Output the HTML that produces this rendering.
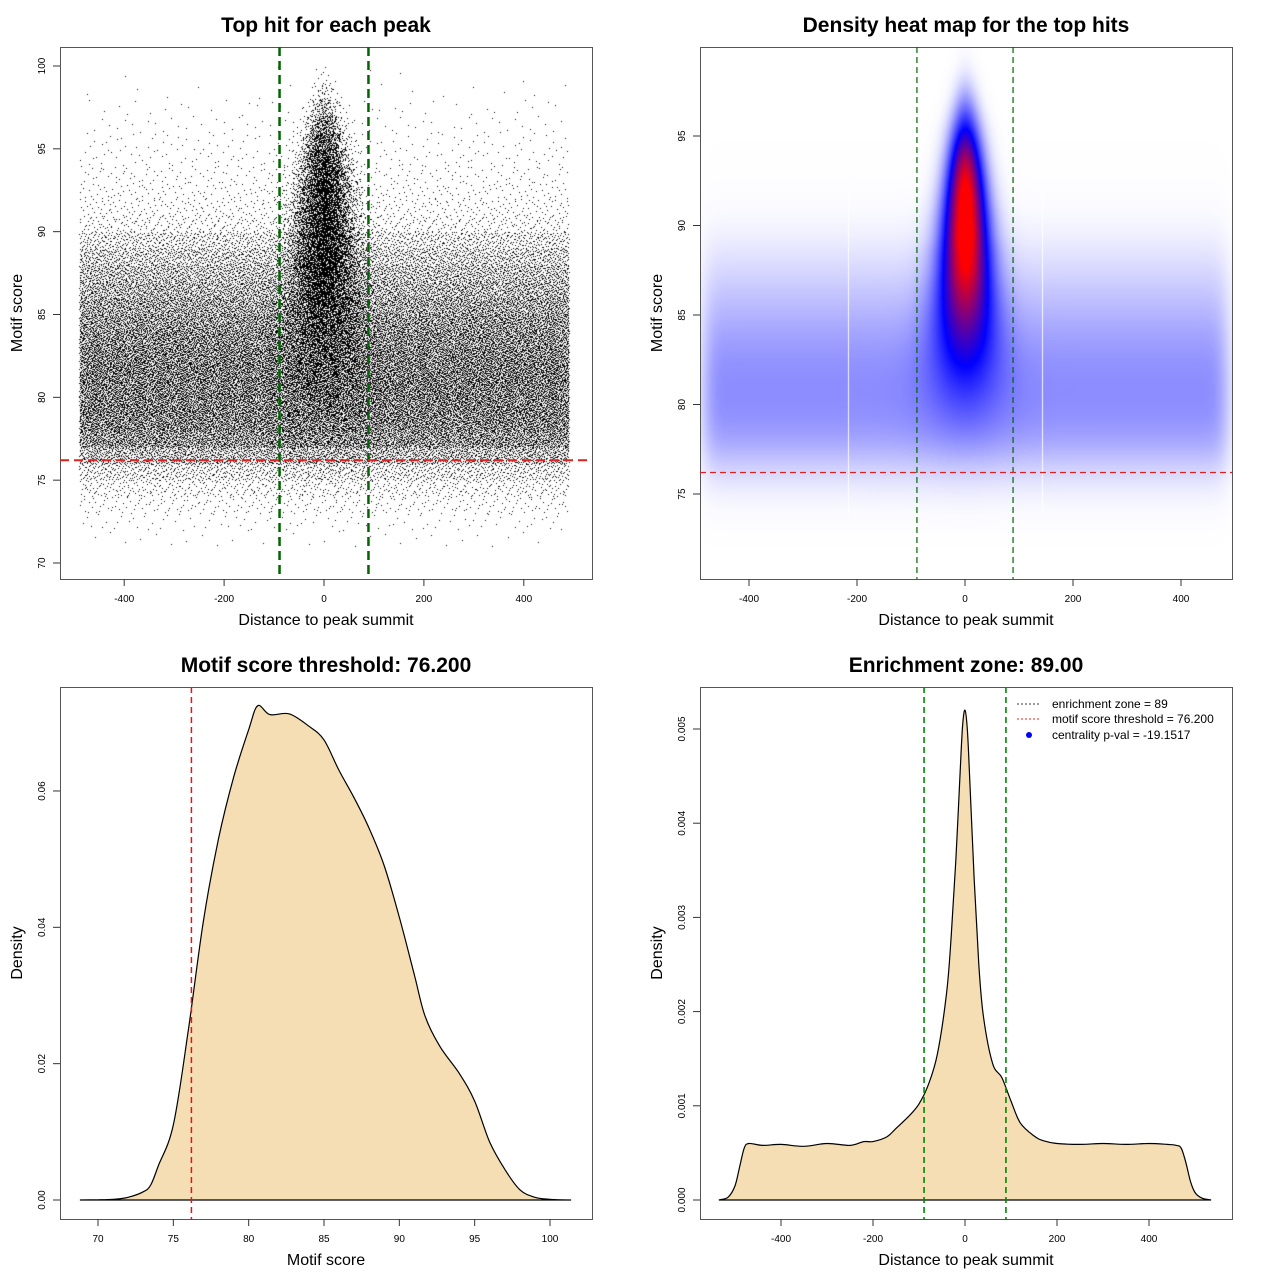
<!DOCTYPE html>
<html><head><meta charset="utf-8"><style>
body{margin:0;background:#fff;width:1280px;height:1280px;position:relative;overflow:hidden;font-family:"Liberation Sans",sans-serif}
canvas{position:absolute}
svg{position:absolute;left:0;top:0}
</style></head><body>
<canvas id="sc" width="532" height="532" style="left:60px;top:47px"></canvas>
<canvas id="hm" width="532" height="532" style="left:700px;top:47px"></canvas>
<svg id="s" width="1280" height="1280"></svg>
<script>
// ---- data ----
const scoreBins=[71,72,73,74,75,76,77,78,79,80,81,82,83,84,85,86,87,88,89,90,91,92,93,94,95,96,97,98,99];
const bgCounts=[30,90,260,560,1150,2600,4000,4400,4600,4700,4700,4500,4200,3800,3300,2800,2300,1800,1200,500,320,230,170,120,85,60,38,15,5];
const centerCounts=[0,0,5,10,25,45,70,110,170,240,330,440,560,680,800,900,980,1050,1100,1100,1050,950,820,650,460,280,120,35,8];
const centerSd=[65,65,65,62,60,58,56,54,52,50,48,46,44,42,40,38,36,35,33,32,30,28,26,24,22,19,16,14,12];
const motifX=[68.8,70,71,72,73,73.5,74,75,76,77,78,79,80,80.6,81.4,82.7,84,85,86,87,88,89,90,91,91.7,92.7,94,95,96,97,98,99,100,101.4];
const motifD=[0,0.00003,0.0001,0.0004,0.0012,0.0022,0.005,0.011,0.025,0.041,0.053,0.062,0.069,0.0725,0.0712,0.0713,0.0695,0.0675,0.063,0.059,0.0545,0.049,0.0415,0.033,0.027,0.0225,0.0185,0.0145,0.0085,0.0045,0.0015,0.0004,0.0001,0];
const distX=[-535,-515,-500,-490,-480,-470,-440,-400,-350,-300,-250,-220,-200,-170,-150,-120,-100,-80,-60,-40,-30,-20,-10,-5,0,5,10,20,30,40,60,80,100,120,150,170,200,250,300,350,400,440,460,470,480,490,500,515,535];
const distD=[0,0.03,0.15,0.35,0.55,0.6,0.58,0.59,0.57,0.6,0.58,0.62,0.62,0.67,0.76,0.9,1.02,1.22,1.55,2.2,2.8,3.6,4.6,5.05,5.2,5.0,4.5,3.4,2.5,1.95,1.45,1.3,1.05,0.82,0.68,0.63,0.6,0.59,0.6,0.59,0.6,0.59,0.58,0.55,0.4,0.2,0.08,0.02,0];
const threshold=76.2, zone=89;
const xTicks1=[-400,-200,0,200,400], yTicks1=[70,75,80,85,90,95,100];
const yTicks2=[75,80,85,90,95];
const xTicks3=[70,75,80,85,90,95,100], yTicks3=[0,0.02,0.04,0.06];
const yTicks4=[0,0.001,0.002,0.003,0.004,0.005];

// ---- scales ----
const x1=v=>324+v*0.4995, y1=v=>563-(v-70)*16.567;
const x2=v=>965+v*0.54, y2=v=>136+(95-v)*17.9;
const x3=v=>98+(v-70)*15.067, y3=v=>1200-v*6817;
const x4=v=>965+v*0.46, y4=v=>1200-v*94200;

function halton(i,b){let f=1,r=0;while(i>0){f/=b;r+=f*(i%b);i=Math.floor(i/b);}return r;}
// ---- scatter ----
const sc=document.getElementById('sc').getContext('2d');sc.fillStyle='#000';
let k=1;
scoreBins.forEach((s,j)=>{
  for(let n=0;n<bgCounts[j];n++,k++){const sx=-490+980*halton(k,2),sy=s+halton(k,3);sc.fillRect(Math.round(x1(sx)-60),Math.round(y1(sy)-47),1,1);}
  for(let n=0;n<centerCounts[j];n++,k++){const u1=Math.max(1e-6,halton(k,5)),u2=halton(k,7);const g=Math.sqrt(-2*Math.log(u1))*Math.cos(2*Math.PI*u2);const sx=Math.max(-495,Math.min(495,g*centerSd[j]));const sy=s+halton(k,3);sc.fillRect(Math.round(x1(sx)-60),Math.round(y1(sy)-47),1,1);}
});
// ---- heatmap ----
function interp0(arr,s){const p=s-scoreBins[0]-0.5;if(p<=0)return arr[0]*Math.max(0,1+p/1.5);if(p>=arr.length-1)return arr[arr.length-1]*Math.max(0,1-(p-arr.length+1)/1.5);const i=Math.floor(p),f=p-i;return arr[i]*(1-f)+arr[i+1]*f;}
function interp(arr,s){let a=0,w=0;for(let o=-3;o<=3;o+=0.5){const ww=Math.exp(-o*o/(2*1.3*1.3));a+=ww*interp0(arr,s+o);w+=ww;}return a/w;}
const hc=document.getElementById('hm').getContext('2d');const img=hc.createImageData(532,532);
const D=new Float32Array(532*532);let dmax=0;
function erf(x){const t=1/(1+0.3275911*Math.abs(x));const y=1-(((((1.061405429*t-1.453152027)*t)+1.421413741)*t-0.284496735)*t+0.254829592)*t*Math.exp(-x*x);return x>=0?y:-y;}
for(let py=0;py<532;py++){const s=95-(py+47-136)/17.9;const bg=interp(bgCounts,s)/980,cc=interp(centerCounts,s),sd=Math.sqrt(Math.pow(interp0(centerSd,s),2)+100);
 for(let px=0;px<532;px++){const x=(px+700-965)/0.54;const edge=0.5*(erf((490-x)/25)+erf((490+x)/25));
  const d=bg*edge+cc*Math.exp(-x*x/(2*sd*sd))/(sd*2.5066);D[py*532+px]=d;if(d>dmax)dmax=d;}}
for(let i=0;i<D.length;i++){let t=Math.pow(D[i]/dmax,1.5)*1.1;t=Math.min(1,t);let r,g,b;
 if(t<0.5){const u=t*2;r=g=255*(1-u);b=255;}else{const u=(t-0.5)*2;r=255*u;g=0;b=255*(1-u);}
 img.data[i*4]=r;img.data[i*4+1]=g;img.data[i*4+2]=b;img.data[i*4+3]=255;}
hc.putImageData(img,0,0);
hc.fillStyle='rgba(255,255,255,0.9)';hc.fillRect(148,90,1,380);hc.fillRect(342,90,1,380);

// ---- svg ----
const S=document.getElementById('s');let h='';
function txt(x,y,t,o){o=o||{};return `<text x="${x}" y="${y}" font-size="${o.fs||10}" text-anchor="${o.a||'middle'}" ${o.b?'font-weight="bold"':''} ${o.r?`transform="rotate(-90 ${x} ${y})"`:''}>${t}</text>`;}
function panel(bx,by,title,xt,yt,xs,ys,xT,yT,fmtX,fmtY,tn){
 let g=`<g>`;
 g+=`<rect x="${bx+.5}" y="${by+.5}" width="532" height="532" fill="none" stroke="#555"/>`;
 g+=txt(bx+266,by-15,title,{fs:21,b:1,n:'plot-title'});
 g+=txt(bx+266,by+578,xt,{fs:16,n:'x-axis-title'});
 g+=txt(bx-38,by+266,yt,{fs:16,r:1,n:'y-axis-title'});
 xT.forEach(v=>{const X=xs(v);g+=`<line x1="${X}" y1="${by+532}" x2="${X}" y2="${by+539}" stroke="#333"/>`+txt(X,by+555,fmtX(v),{n:'x-tick-label'});});
 yT.forEach(v=>{const Y=ys(v);g+=`<line x1="${bx}" y1="${Y}" x2="${bx-7}" y2="${Y}" stroke="#333"/>`+txt(bx-15,Y,fmtY(v),{r:1,n:'y-tick-label'});});
 return g+'</g>';}
h+=panel(60,47,'Top hit for each peak','Distance to peak summit','Motif score',x1,y1,xTicks1,yTicks1,String,String,'scatter-panel');
h+=panel(700,47,'Density heat map for the top hits','Distance to peak summit','Motif score',x2,y2,xTicks1,yTicks2,String,String,'heatmap-panel');
h+=panel(60,687,'Motif score threshold: 76.200','Motif score','Density',x3,y3,xTicks3,yTicks3,String,v=>v.toFixed(2),'score-density-panel');
h+=panel(700,687,'Enrichment zone: 89.00','Distance to peak summit','Density',x4,y4,xTicks1,yTicks4,String,v=>v.toFixed(3),'distance-density-panel');
// reference lines
h+=`<line x1="${x1(-zone)}" y1="47" x2="${x1(-zone)}" y2="579" stroke="#006400" stroke-width="2.5" stroke-dasharray="9,5"/>`;
h+=`<line x1="${x1(zone)}" y1="47" x2="${x1(zone)}" y2="579" stroke="#006400" stroke-width="2.5" stroke-dasharray="9,5"/>`;
h+=`<line x1="60" y1="${y1(threshold)}" x2="592" y2="${y1(threshold)}" stroke="#d22" stroke-width="2" stroke-dasharray="9,5"/>`;
h+=`<line x1="${x2(-zone)}" y1="47" x2="${x2(-zone)}" y2="579" stroke="#006400" stroke-width="1.2" stroke-dasharray="6,4"/>`;
h+=`<line x1="${x2(zone)}" y1="47" x2="${x2(zone)}" y2="579" stroke="#006400" stroke-width="1.2" stroke-dasharray="6,4"/>`;
h+=`<line x1="700" y1="${y2(threshold)}" x2="1232" y2="${y2(threshold)}" stroke="#d22" stroke-width="1.2" stroke-dasharray="6,4"/>`;
// smooth path through points (Catmull-Rom)
function smooth(P){let d=`M${P[0][0].toFixed(1)},${P[0][1].toFixed(1)}`;for(let i=0;i<P.length-1;i++){const p0=P[Math.max(0,i-1)],p1=P[i],p2=P[i+1],p3=P[Math.min(P.length-1,i+2)];
 const c1=[p1[0]+(p2[0]-p0[0])/6,p1[1]+(p2[1]-p0[1])/6],c2=[p2[0]-(p3[0]-p1[0])/6,p2[1]-(p3[1]-p1[1])/6];
 d+=`C${c1[0].toFixed(1)},${c1[1].toFixed(1)} ${c2[0].toFixed(1)},${c2[1].toFixed(1)} ${p2[0].toFixed(1)},${p2[1].toFixed(1)}`;}return d;}
const p3=smooth(motifX.map((v,i)=>[x3(v),y3(motifD[i])]));
h+=`<path d="${p3}Z" fill="#f5deb3" stroke="#000" stroke-width="1.2"/>`;
h+=`<line x1="${x3(threshold)}" y1="687" x2="${x3(threshold)}" y2="1219" stroke="#e11" stroke-width="1.5" stroke-dasharray="6,4"/>`;
const p4=smooth(distX.map((v,i)=>[x4(v),y4(distD[i]/1000)]));
h+=`<path d="${p4}Z" fill="#f5deb3" stroke="#000" stroke-width="1.2"/>`;
h+=`<line x1="${x4(-zone)}" y1="687" x2="${x4(-zone)}" y2="1219" stroke="#080" stroke-width="1.6" stroke-dasharray="6,4"/>`;
h+=`<line x1="${x4(zone)}" y1="687" x2="${x4(zone)}" y2="1219" stroke="#080" stroke-width="1.6" stroke-dasharray="6,4"/>`;
// legend
h+=`<g>
<line x1="1017" y1="704" x2="1041" y2="704" stroke="#333" stroke-dasharray="2,2"/>
<line x1="1017" y1="719" x2="1041" y2="719" stroke="#e22" stroke-dasharray="2,2"/>
<circle cx="1029" cy="735" r="3" fill="#00f"/>
${txt(1052,708,'enrichment zone = 89',{fs:12,a:'start',n:'legend-entry'})}
${txt(1052,723,'motif score threshold = 76.200',{fs:12,a:'start',n:'legend-entry'})}
${txt(1052,739,'centrality p-val = -19.1517',{fs:12,a:'start',n:'legend-entry'})}
</g>`;
S.innerHTML=h;
</script>
</body></html>
